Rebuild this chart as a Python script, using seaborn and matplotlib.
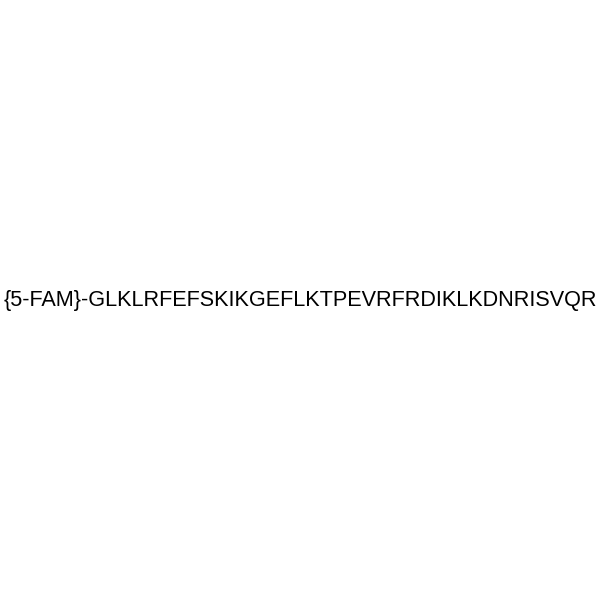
import matplotlib

matplotlib.use("Agg")
import matplotlib.pyplot as plt
import seaborn as sns

# Peptide sequence with its N-terminal label
label = "{5-FAM}"
sequence = "GLKLRFEFSKIKGEFLKTPEVRFRDIKLKDNRISVQR"


def main() -> None:
    sns.set_theme(style="white")
    plt.rcParams["font.family"] = ["Liberation Sans", "DejaVu Sans"]

    fig, ax = plt.subplots(figsize=(6, 6), dpi=100)
    fig.subplots_adjust(left=0, right=1, bottom=0, top=1)
    ax.set_axis_off()
    ax.set_xlim(0, 600)
    ax.set_ylim(600, 0)

    # baseline sits at about y=306 px in the reference
    ax.text(
        300,
        306,
        f"{label}-{sequence}",
        ha="center",
        va="baseline",
        fontsize=15.6,
        color="black",
    )

    fig.savefig("out.png", dpi=100, facecolor="white")
    plt.close(fig)


if __name__ == "__main__":
    main()
